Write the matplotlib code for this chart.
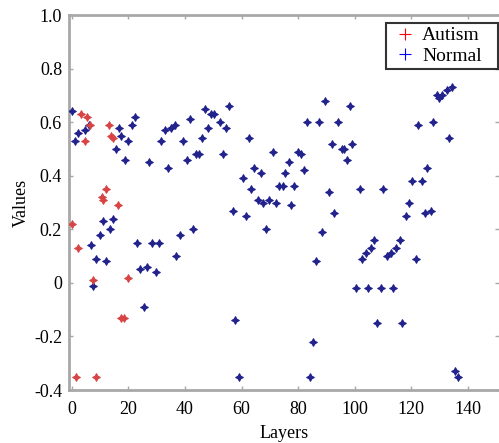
import matplotlib
matplotlib.use("Agg")
import matplotlib.pyplot as plt
from matplotlib.lines import Line2D

# Data
autism_layers = [3.4, 5.4, 6.3, 4.6, 13.2, 13.8, 14.6, 12.2, 10.5, 11.0,
                 16.3, 0.2, 2.2, 7.5, 19.9, 17.5, 18.3, 1.4, 8.7]
autism_values = [0.63, 0.62, 0.59, 0.53, 0.59, 0.55, 0.54, 0.35, 0.32, 0.31,
                 0.29, 0.22, 0.13, 0.01, 0.02, -0.13, -0.13, -0.35, -0.35]

normal_layers = [0.0, 1.1, 2.2, 4.6, 6.1, 6.6, 7.5, 8.7, 10.1, 11.0, 12.2, 13.4, 14.4,
                 15.5, 16.7, 17.5, 18.7, 19.9, 21.1, 22.2, 23.0, 24.2, 25.4, 26.6,
                 27.3, 28.5, 29.9, 30.8, 31.6, 32.8, 34.0, 35.2, 36.3, 36.9, 38.3,
                 39.2, 40.7, 41.6, 42.8, 44.0, 44.9, 46.1, 46.9, 48.1, 49.3, 50.4,
                 52.2, 53.6, 54.5, 55.4, 56.9, 57.8, 59.0, 60.4, 61.4, 62.5, 63.4,
                 64.5, 65.7, 66.9, 67.5, 68.7, 69.8, 71.2, 72.2, 73.3, 74.5, 75.5,
                 76.6, 77.5, 78.6, 79.8, 81.0, 82.2, 83.1, 84.2, 85.3, 86.3, 87.2,
                 88.4, 89.6, 91.0, 91.9, 92.7, 94.1, 95.5, 96.3, 97.2, 98.3, 99.2,
                 100.4, 101.8, 102.7, 103.9, 104.8, 105.7, 106.8, 108.0, 109.2,
                 110.1, 111.5, 112.7, 113.5, 114.7, 115.9, 116.8, 118.0, 119.2,
                 120.1, 121.5, 122.5, 123.7, 124.8, 125.6, 126.8, 127.8, 129.2,
                 129.8, 130.9, 132.7, 133.3, 134.4, 135.4, 136.6]
normal_values = [0.64, 0.53, 0.56, 0.57, 0.59, 0.14, -0.01, 0.09, 0.18, 0.23, 0.08, 0.20, 0.24,
                 0.50, 0.58, 0.55, 0.46, 0.53, 0.59, 0.62, 0.15, 0.05, -0.09, 0.06,
                 0.45, 0.15, 0.04, 0.15, 0.53, 0.57, 0.43, 0.58, 0.59, 0.10, 0.18,
                 0.53, 0.46, 0.61, 0.20, 0.48, 0.48, 0.54, 0.65, 0.58, 0.63, 0.63,
                 0.60, 0.48, 0.58, 0.66, 0.27, -0.14, -0.35, 0.39, 0.25, 0.54, 0.35,
                 0.43, 0.31, 0.41, 0.30, 0.20, 0.31, 0.49, 0.30, 0.36, 0.36, 0.41,
                 0.45, 0.29, 0.36, 0.49, 0.48, 0.42, 0.60, -0.35, -0.22, 0.08, 0.60,
                 0.19, 0.68, 0.34, 0.52, 0.26, 0.60, 0.50, 0.50, 0.46, 0.66, 0.52,
                 -0.02, 0.35, 0.09, 0.11, -0.02, 0.13, 0.16, -0.15, -0.02,
                 0.35, 0.10, 0.11, -0.02, 0.13, 0.16, -0.15, 0.25, 0.30,
                 0.38, 0.09, 0.59, 0.38, 0.26, 0.43, 0.27, 0.60, 0.70,
                 0.69, 0.70, 0.72, 0.54, 0.73, -0.33, -0.35]

x_ticks = [0, 20, 40, 60, 80, 100, 120, 140]
y_ticks = [-0.4, -0.2, 0, 0.2, 0.4, 0.6, 0.8, 1.0]
y_ticklabels = ["-0.4", "-0.2", "0", "0.2", "0.4", "0.6", "0.8", "1.0"]

RED = "#d84444"
BLUE = "#22228c"
GRAY = "#a8a8a8"

plt.rcParams["font.family"] = ["Liberation Serif", "DejaVu Serif"]

fig = plt.figure(figsize=(4.99, 4.43), dpi=100)
ax = fig.add_axes([0.1383, 0.1196, 0.8617, 0.8465])

star = (4, 1, 0)  # four-pointed star, like the blurred '+' markers
ax.scatter(normal_layers, normal_values, marker=star, s=30, color=BLUE,
           linewidths=0.8, zorder=3)
ax.scatter(autism_layers, autism_values, marker=star, s=30, color=RED,
           linewidths=0.8, zorder=3)

ax.set_xlim(-1, 151)
ax.set_ylim(-0.4, 1.0)
ax.set_xticks(x_ticks)
ax.set_yticks(y_ticks)
ax.set_yticklabels(y_ticklabels)
ax.tick_params(direction="in", length=3, width=1, color=GRAY,
               top=True, right=True, labelsize=13)
ax.tick_params(axis="x", pad=8)
ax.tick_params(axis="y", pad=5)

for side in ["left", "bottom", "top"]:
    ax.spines[side].set_color(GRAY)
    ax.spines[side].set_linewidth(2)
ax.spines["right"].set_visible(False)

ax.set_xlabel("Layers", fontsize=13, labelpad=5)
ax.set_ylabel("Values", fontsize=13, labelpad=3)

handles = [
    Line2D([], [], marker="+", linestyle="none", color="red", markersize=9, mew=0.8),
    Line2D([], [], marker="+", linestyle="none", color="blue", markersize=9, mew=0.8),
]
leg = ax.legend(handles, ["Autism", "Normal"], loc="upper left",
                bbox_to_anchor=(386 / 499, 0.5, 112 / 499, 1 - 23 / 443 - 0.5),
                bbox_transform=fig.transFigure, mode="expand",
                fontsize=14, frameon=True, fancybox=False, borderpad=0.2,
                handletextpad=0.05, handlelength=1.6, labelspacing=0.15,
                borderaxespad=0)
leg.get_frame().set_edgecolor("black")
leg.get_frame().set_linewidth(1.5)

fig.savefig("out.png", dpi=100)
